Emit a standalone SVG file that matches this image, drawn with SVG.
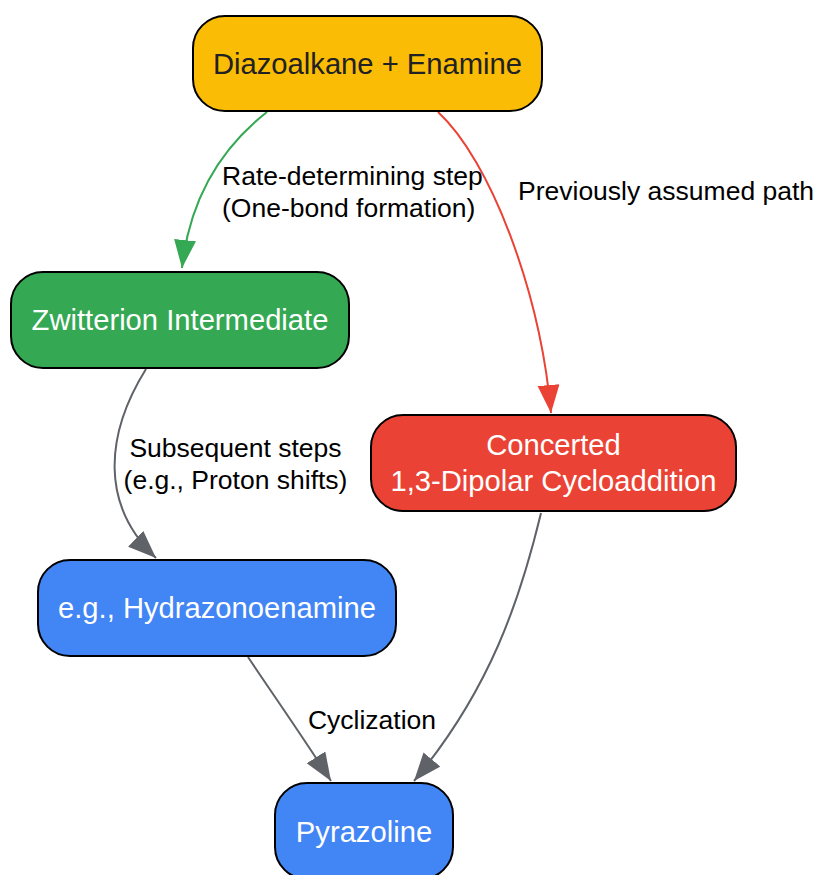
<svg xmlns="http://www.w3.org/2000/svg" width="816" height="875" viewBox="0 0 816 875">
<style>
.box{stroke:#000;stroke-width:2}
.nt{font-family:"Liberation Sans",Arial,sans-serif;font-size:29.2px;text-anchor:middle}
.lt{font-family:"Liberation Sans",Arial,sans-serif;font-size:26.5px;fill:#000}
.e{fill:none;stroke-width:2}
</style>
<defs>
<marker id="ag" markerUnits="userSpaceOnUse" markerWidth="30" markerHeight="24" refX="28" refY="11" orient="auto" viewBox="0 0 30 24"><path d="M0,0 L28,11 L0,22 Z" fill="#34A853"/></marker>
<marker id="ar" markerUnits="userSpaceOnUse" markerWidth="30" markerHeight="24" refX="28" refY="11" orient="auto" viewBox="0 0 30 24"><path d="M0,0 L28,11 L0,22 Z" fill="#EA4335"/></marker>
<marker id="ak" markerUnits="userSpaceOnUse" markerWidth="30" markerHeight="24" refX="28" refY="11" orient="auto" viewBox="0 0 30 24"><path d="M0,0 L28,11 L0,22 Z" fill="#5F6368"/></marker>
</defs>
<rect width="816" height="875" fill="#fff"/>
<g id="edges">
<path class="e" d="M267,112 C225,145 190,195 182,268" stroke="#34A853" marker-end="url(#ag)"/>
<path class="e" d="M438,112 C490,160 540,290 551,413" stroke="#EA4335" marker-end="url(#ar)"/>
<path class="e" d="M146,369 C105,435 100,505 156,558" stroke="#5F6368" marker-end="url(#ak)"/>
<path class="e" d="M248,657 C270,690 305,740 331,781" stroke="#5F6368" marker-end="url(#ak)"/>
<path class="e" d="M541,513 C520,600 490,690 414,781" stroke="#5F6368" marker-end="url(#ak)"/>
<text class="lt" x="222" y="185">Rate-determining step</text>
<text class="lt" x="222" y="217">(One-bond formation)</text>
<text class="lt" x="518" y="200">Previously assumed path</text>
<text class="lt" x="235.5" y="457" text-anchor="middle">Subsequent steps</text>
<text class="lt" x="235.5" y="489" text-anchor="middle">(e.g., Proton shifts)</text>
<text class="lt" x="372" y="729" text-anchor="middle">Cyclization</text>
</g>
<g id="n1">
<rect class="box" x="193" y="16" width="349" height="95" rx="32" fill="#FBBC05"/>
<text class="nt" x="367.5" y="74" fill="#202124">Diazoalkane + Enamine</text>
</g>
<g id="n2">
<rect class="box" x="11" y="272" width="338" height="96" rx="32" fill="#34A853"/>
<text class="nt" x="180" y="330" fill="#fff">Zwitterion Intermediate</text>
</g>
<g id="n3">
<rect class="box" x="371" y="415" width="365" height="96" rx="32" fill="#EA4335"/>
<text class="nt" x="553.5" y="455" fill="#fff">Concerted</text>
<text class="nt" x="553.5" y="491" fill="#fff">1,3-Dipolar Cycloaddition</text>
</g>
<g id="n4">
<rect class="box" x="38" y="560" width="358" height="96" rx="32" fill="#4285F4"/>
<text class="nt" x="217" y="618" fill="#fff">e.g., Hydrazonoenamine</text>
</g>
<g id="n5">
<rect class="box" x="275" y="783" width="178" height="96" rx="32" fill="#4285F4"/>
<text class="nt" x="364" y="842" fill="#fff">Pyrazoline</text>
</g>
</svg>
